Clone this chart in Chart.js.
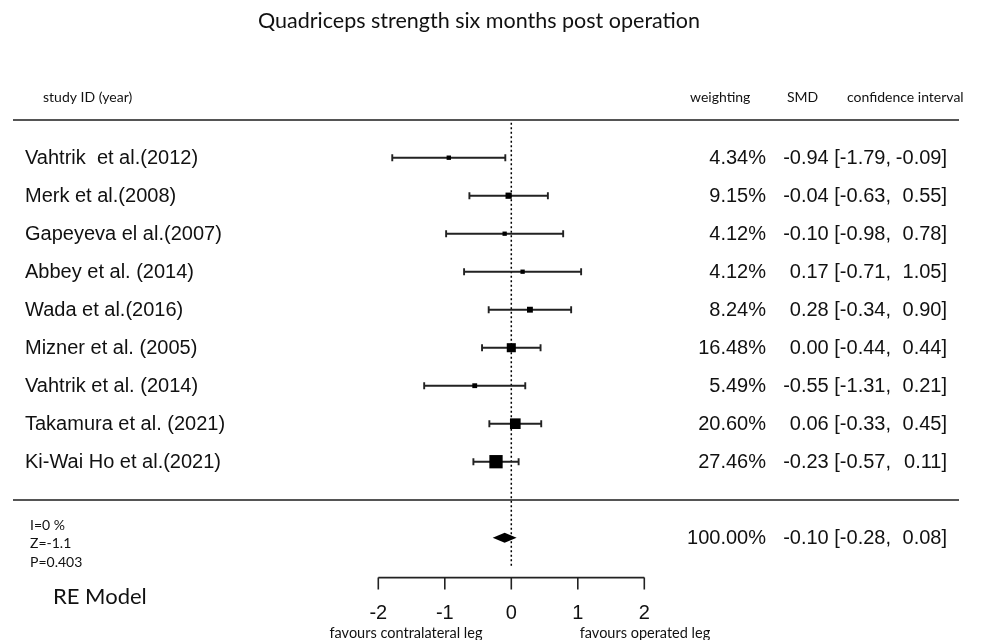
<!DOCTYPE html>
<html>
<head>
<meta charset="utf-8">
<script src="https://cdn.jsdelivr.net/npm/chart.js@4.4.0/dist/chart.umd.min.js"></script>
<style>
html,body{margin:0;padding:0;background:#fff;overflow:hidden}
canvas{display:block}
</style>
</head>
<body>
<canvas id="c" width="982" height="640"></canvas>
<script>
// ---------- data ----------
const titleText = 'Quadriceps strength six months post operation';
const columnHeaders = ['study ID (year)', 'weighting', 'SMD', 'confidence interval'];
const studies = ['Vahtrik  et al.(2012)', 'Merk et al.(2008)', 'Gapeyeva el al.(2007)', 'Abbey et al. (2014)',
  'Wada et al.(2016)', 'Mizner et al. (2005)', 'Vahtrik et al. (2014)', 'Takamura et al. (2021)', 'Ki-Wai Ho et al.(2021)'];
const weights = [4.34, 9.15, 4.12, 4.12, 8.24, 16.48, 5.49, 20.60, 27.46];
const smd = [-0.94, -0.04, -0.10, 0.17, 0.28, 0.00, -0.55, 0.06, -0.23];
const ciLow = [-1.79, -0.63, -0.98, -0.71, -0.34, -0.44, -1.31, -0.33, -0.57];
const ciHigh = [-0.09, 0.55, 0.78, 1.05, 0.90, 0.44, 0.21, 0.45, 0.11];
const pooledWeight = 100.00;
const pooledSmd = -0.10;
const pooledLow = -0.28;
const pooledHigh = 0.08;
const statsLines = ['I=0 %', 'Z=-1.1', 'P=0.403'];
const modelLabel = 'RE Model';
const axisTicks = [-2, -1, 0, 1, 2];
const favourLabels = ['favours contralateral leg', 'favours operated leg'];

// ---------- layout (view ranges / styles) ----------
const ZERO_PX = 511.3, UNIT_PX = 66.5, ROW0_PX = 157.7, ROW_PX = 38.0;
const W = 982, H = 640;
const X_MIN = -ZERO_PX / UNIT_PX, X_MAX = (W - ZERO_PX) / UNIT_PX;
const Y_MIN = -ROW0_PX / ROW_PX, Y_MAX = (H - ROW0_PX) / ROW_PX;
const SUMMARY_ROW = studies.length + 1;
const HEADER_RULE_ROW = -1, FOOT_RULE_ROW = studies.length;
const AXIS_ROW = 11.05;

const SANS = '"Liberation Sans", Arial, sans-serif';
const HUMAN = 'Lato, "Open Sans", sans-serif';
const minW = Math.min(...weights), maxW = Math.max(...weights);
const sideFor = w => 4.3 + (w - minW) / (maxW - minW) * 9;

const fmt = v => v.toFixed(2);

const forestPlugin = {
  id: 'forest',
  beforeDatasetsDraw(chart) {
    const {ctx, scales: {x, y}} = chart;
    ctx.save();
    // horizontal rules
    ctx.strokeStyle = '#555';
    ctx.lineWidth = 2;
    [HEADER_RULE_ROW, FOOT_RULE_ROW].forEach(r => {
      const py = Math.round(y.getPixelForValue(r));
      ctx.beginPath(); ctx.moveTo(13, py); ctx.lineTo(959, py); ctx.stroke();
    });
    // dotted zero line
    ctx.strokeStyle = '#000';
    ctx.lineWidth = 1.5;
    ctx.setLineDash([2, 2.5]);
    const zx = x.getPixelForValue(0);
    ctx.beginPath();
    ctx.moveTo(zx, y.getPixelForValue(HEADER_RULE_ROW) + 3);
    ctx.lineTo(zx, y.getPixelForValue(AXIS_ROW) - 10);
    ctx.stroke();
    ctx.setLineDash([]);
    // error bars
    ctx.strokeStyle = '#222';
    ctx.lineWidth = 1.9;
    studies.forEach((s, i) => {
      const py = y.getPixelForValue(i);
      const x1 = x.getPixelForValue(ciLow[i]), x2 = x.getPixelForValue(ciHigh[i]);
      ctx.beginPath();
      ctx.moveTo(x1, py); ctx.lineTo(x2, py);
      ctx.moveTo(x1, py - 3.5); ctx.lineTo(x1, py + 3.5);
      ctx.moveTo(x2, py - 3.5); ctx.lineTo(x2, py + 3.5);
      ctx.stroke();
    });
    // x axis
    const ay = y.getPixelForValue(AXIS_ROW);
    ctx.strokeStyle = '#222';
    ctx.lineWidth = 1.6;
    ctx.beginPath();
    ctx.moveTo(x.getPixelForValue(axisTicks[0]), ay);
    ctx.lineTo(x.getPixelForValue(axisTicks[axisTicks.length - 1]), ay);
    axisTicks.forEach(t => {
      const px = x.getPixelForValue(t);
      ctx.moveTo(px, ay); ctx.lineTo(px, ay + 12);
    });
    ctx.stroke();
    ctx.restore();
  },
  afterDatasetsDraw(chart) {
    const {ctx, scales: {x, y}} = chart;
    ctx.save();
    // summary diamond
    const sy = y.getPixelForValue(SUMMARY_ROW);
    ctx.fillStyle = '#000';
    ctx.beginPath();
    ctx.moveTo(x.getPixelForValue(pooledLow), sy);
    ctx.lineTo(x.getPixelForValue(pooledSmd), sy - 5);
    ctx.lineTo(x.getPixelForValue(pooledHigh), sy);
    ctx.lineTo(x.getPixelForValue(pooledSmd), sy + 5);
    ctx.closePath();
    ctx.fill();

    ctx.fillStyle = '#111';
    // title
    ctx.font = '21.5px ' + HUMAN;
    ctx.textAlign = 'center';
    ctx.textBaseline = 'alphabetic';
    ctx.fillText(titleText, 479, 28);
    // column headers
    ctx.font = '14px ' + HUMAN;
    ctx.textAlign = 'left';
    ctx.fillText(columnHeaders[0], 43, 102);
    ctx.fillText(columnHeaders[1], 690, 102);
    ctx.fillText(columnHeaders[2], 787, 102);
    ctx.fillText(columnHeaders[3], 847, 102);

    // rows
    ctx.font = '20px ' + SANS;
    ctx.textBaseline = 'middle';
    const drawRow = (label, w, m, lo, hi, py) => {
      if (label) { ctx.textAlign = 'left'; ctx.fillText(label, 25, py); }
      ctx.textAlign = 'right';
      ctx.fillText(w.toFixed(2) + '%', 766, py);
      ctx.fillText(fmt(m) + ' [' + fmt(lo) + ',', 891, py);
      ctx.fillText(fmt(hi) + ']', 947, py);
    };
    studies.forEach((s, i) => drawRow(s, weights[i], smd[i], ciLow[i], ciHigh[i], y.getPixelForValue(i) + 0.5));
    drawRow(null, pooledWeight, pooledSmd, pooledLow, pooledHigh, sy + 0.5);

    // stats
    ctx.font = '14px ' + HUMAN;
    ctx.textAlign = 'left';
    statsLines.forEach((t, i) => ctx.fillText(t, 30, 525 + i * 18.5));
    ctx.font = '22px ' + HUMAN;
    ctx.fillText(modelLabel, 53, 597);

    // axis tick labels
    const ay = y.getPixelForValue(AXIS_ROW);
    ctx.font = '20px ' + SANS;
    ctx.textAlign = 'center';
    axisTicks.forEach(t => ctx.fillText(String(t), x.getPixelForValue(t), ay + 36));
    // favour labels
    ctx.font = '14.5px ' + HUMAN;
    ctx.textBaseline = 'alphabetic';
    ctx.fillText(favourLabels[0], 406, 638);
    ctx.fillText(favourLabels[1], 645, 638);
    ctx.restore();
  }
};

new Chart(document.getElementById('c'), {
  type: 'scatter',
  data: {
    datasets: [{
      label: 'SMD',
      data: smd.map((v, i) => ({x: v, y: i})),
      pointStyle: 'rect',
      pointRadius: weights.map(w => sideFor(w) / Math.SQRT2),
      pointBackgroundColor: '#000',
      pointBorderColor: '#000',
      pointBorderWidth: 0,
      pointHoverRadius: weights.map(w => sideFor(w) / Math.SQRT2)
    }]
  },
  options: {
    responsive: false,
    animation: false,
    events: [],
    layout: {padding: 0, autoPadding: false},
    plugins: {legend: {display: false}, tooltip: {enabled: false}, title: {display: false}},
    scales: {
      x: {type: 'linear', display: false, min: X_MIN, max: X_MAX},
      y: {type: 'linear', display: false, min: Y_MIN, max: Y_MAX, reverse: true}
    }
  },
  plugins: [forestPlugin]
});
</script>
</body>
</html>
